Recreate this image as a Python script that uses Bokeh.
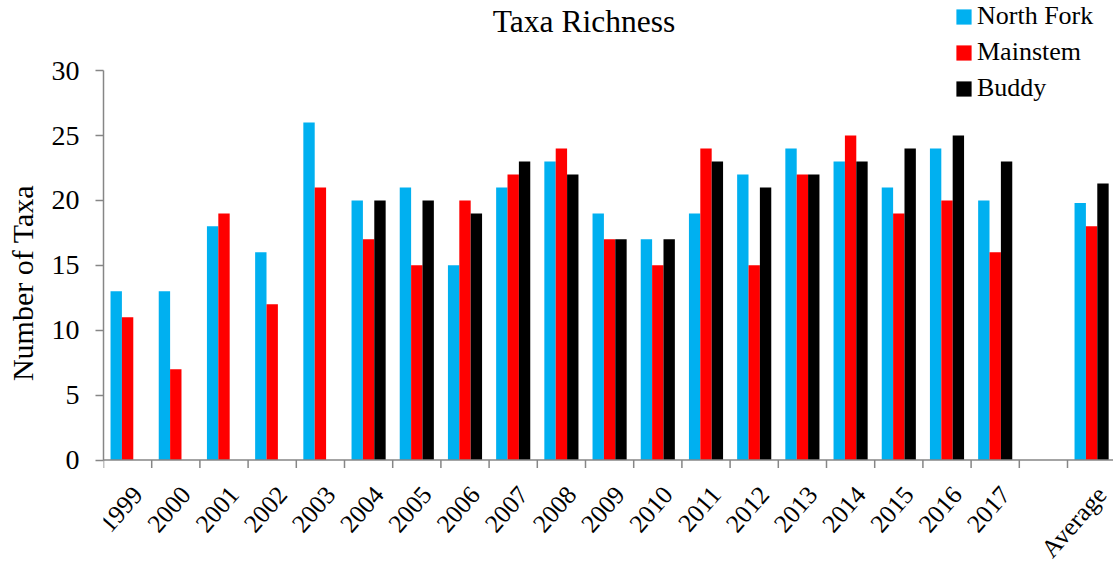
import math
from bokeh.plotting import figure
from bokeh.models import (Range1d, FixedTicker, ColumnDataSource, Legend, LegendItem, Label)
from bokeh.transform import dodge
from bokeh.core.properties import value
from bokeh.embed import file_html
from bokeh.resources import INLINE

categories = ["1999", "2000", "2001", "2002", "2003", "2004", "2005", "2006", "2007",
              "2008", "2009", "2010", "2011", "2012", "2013", "2014", "2015", "2016",
              "2017", "", "Average"]
north_fork = [13, 13, 18, 16, 26, 20, 21, 15, 21, 23, 19, 17, 19, 22, 24, 23, 21, 24, 20, None, 19.8]
mainstem = [11, 7, 19, 12, 21, 17, 15, 20, 22, 24, 17, 15, 24, 15, 22, 25, 19, 20, 16, None, 18.0]
buddy = [None, None, None, None, None, 20, 20, 19, 23, 22, 17, 17, 23, 21, 22, 23, 24, 25, 23, None, 21.3]
y_ticks = [0, 5, 10, 15, 20, 25, 30]
title_text = "Taxa Richness"

FONT = "Liberation Serif"
AXIS_GRAY = "#868686"

W, H = 1113, 565
B_LEFT = 103
AXIS_Y = 459.5                    # pixel row (from figure top) of the value 0
px_per_unit = 12.98
slot_px = 48.2
y_top = AXIS_Y / px_per_unit
y_bottom = -(H - AXIS_Y) / px_per_unit
x_end = (W - B_LEFT) / slot_px

p = figure(width=W, height=H, output_backend="svg", toolbar_location=None, title=None,
           x_axis_location=None,
           x_range=Range1d(0, x_end), y_range=Range1d(y_bottom, y_top),
           min_border_left=B_LEFT, min_border_right=0, min_border_top=0,
           min_border_bottom=0)
p.outline_line_color = None
p.xgrid.grid_line_color = None
p.ygrid.grid_line_color = None

n = len(categories)
centers = [i + 0.5 for i in range(n)]

def src(vals):
    xs = [c for c, v in zip(centers, vals) if v is not None]
    ys = [v for v in vals if v is not None]
    return ColumnDataSource(dict(x=xs, top=ys))

bw = 0.236
r_nf = p.vbar(x=dodge("x", -bw, range=p.x_range), top="top", width=bw, bottom=0,
              source=src(north_fork), fill_color="#00B0F0", line_color=None)
r_ms = p.vbar(x=dodge("x", 0, range=p.x_range), top="top", width=bw, bottom=0,
              source=src(mainstem), fill_color="#FF0000", line_color=None)
r_bd = p.vbar(x=dodge("x", bw, range=p.x_range), top="top", width=bw, bottom=0,
              source=src(buddy), fill_color="#000000", line_color=None)

# category (x) axis: line, boundary ticks and rotated labels
tick_len = 8 / px_per_unit
p.segment(x0=[0], x1=[n], y0=[0], y1=[0], line_color=AXIS_GRAY, line_width=1.5)
bounds_x = list(range(n + 1))
p.segment(x0=bounds_x, x1=bounds_x, y0=[0] * len(bounds_x), y1=[-tick_len] * len(bounds_x),
          line_color=AXIS_GRAY, line_width=1.5)
p.text(x=centers, y=[0] * n, text=categories, angle=math.radians(49),
       x_offset=10, y_offset=30,
       text_font=value(FONT), text_font_size="25.5px", text_color="black",
       text_align="right", text_baseline="middle")

# title
p.add_layout(Label(x=(583.5 - B_LEFT) / slot_px, y=(AXIS_Y - 21) / px_per_unit,
                   text=title_text, text_font=FONT,
                   text_font_size="31.5px", text_color="black",
                   text_align="center", text_baseline="middle"))

ya = p.yaxis[0]
ya.ticker = FixedTicker(ticks=y_ticks)
ya.bounds = (0, 30)
ya.minor_tick_line_color = None
ya.major_tick_line_color = AXIS_GRAY
ya.major_tick_line_width = 1.5
ya.major_tick_in = 0
ya.major_tick_out = 8
ya.axis_line_color = AXIS_GRAY
ya.axis_line_width = 1.5
ya.major_label_text_font = FONT
ya.major_label_text_font_size = "28px"
ya.major_label_text_color = "black"
ya.major_label_standoff = 16
ya.axis_label = "Number of Taxa"
ya.axis_label_text_font = FONT
ya.axis_label_text_font_size = "30px"
ya.axis_label_text_font_style = "normal"
ya.axis_label_text_color = "black"
ya.axis_label_standoff = 10

legend = Legend(items=[LegendItem(label="North Fork", renderers=[r_nf]),
                       LegendItem(label="Mainstem", renderers=[r_ms]),
                       LegendItem(label="Buddy", renderers=[r_bd])],
                location=(851, 462))
legend.border_line_color = None
legend.background_fill_alpha = 0
legend.label_text_font = FONT
legend.label_text_font_size = "26px"
legend.label_text_color = "black"
legend.glyph_width = 19
legend.glyph_height = 19
legend.label_height = 30
legend.label_standoff = 4
legend.spacing = 6
legend.padding = 0
legend.margin = 0
p.add_layout(legend, "center")

open("out.html", "w").write(file_html(p, INLINE))
